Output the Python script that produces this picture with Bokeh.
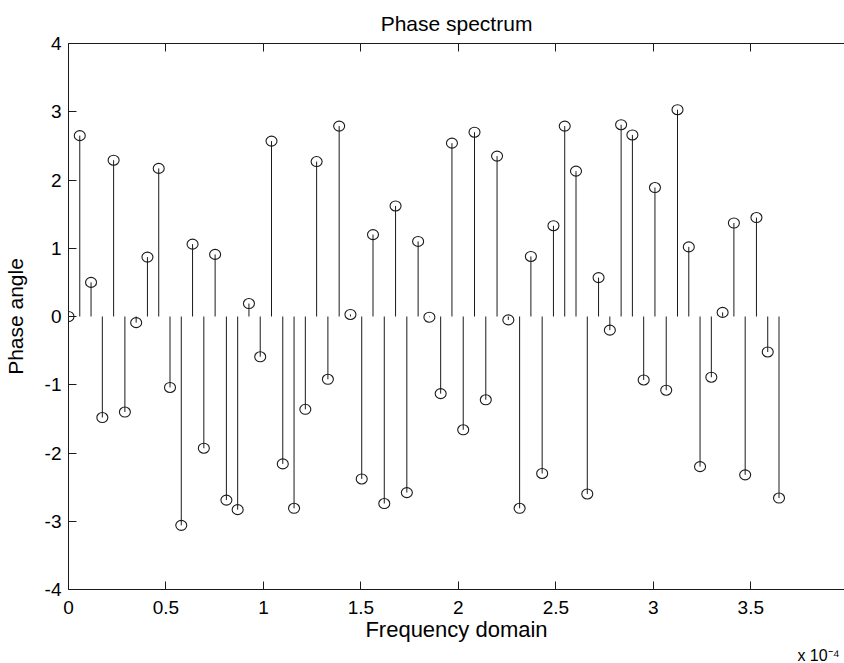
from bokeh.plotting import figure
from bokeh.models import Range1d, LinearAxis, FixedTicker, CustomJSTickFormatter, Title, ColumnDataSource
from bokeh.embed import file_html
from bokeh.resources import INLINE

# ---- data ----
df = 5.785e-6  # frequency resolution
phase = [0.00, 2.65, 0.50, -1.48, 2.29, -1.40, -0.09, 0.87, 2.17, -1.04,
         -3.06, 1.06, -1.93, 0.91, -2.69, -2.83, 0.19, -0.59, 2.57, -2.16,
         -2.81, -1.36, 2.27, -0.92, 2.79, 0.03, -2.38, 1.20, -2.74, 1.62,
         -2.58, 1.10, -0.01, -1.13, 2.54, -1.66, 2.70, -1.22, 2.35, -0.05,
         -2.81, 0.88, -2.30, 1.33, 2.79, 2.13, -2.60, 0.57, -0.20, 2.81,
         2.66, -0.93, 1.89, -1.08, 3.03, 1.02, -2.20, -0.89, 0.06, 1.37,
         -2.32, 1.45, -0.52, -2.66]
freq = [k * df for k in range(len(phase))]
zeros = [0.0] * len(phase)

x_ticks = [0, 0.5e-4, 1.0e-4, 1.5e-4, 2.0e-4, 2.5e-4, 3.0e-4, 3.5e-4, 4.0e-4]
y_ticks = [-4, -3, -2, -1, 0, 1, 2, 3, 4]

title_text = "Phase spectrum"
x_label = "Frequency domain"
y_label = "Phase angle"
x_exponent = "x 10\u207b\u2074"

XMAX = 3.9805e-4
FONT = "Liberation Sans"
INK = "#1a1a1a"

src = ColumnDataSource(dict(f=freq, ph=phase, z=zeros))

p = figure(width=844, height=663, output_backend="svg", toolbar_location=None,
           x_range=Range1d(0, XMAX), y_range=Range1d(-4, 4),
           min_border_left=67, min_border_right=0, min_border_top=43, min_border_bottom=73)
p.title.text = title_text
p.title.align = "center"
p.title.text_font = FONT
p.title.text_font_size = "21px"
p.title.text_font_style = "normal"
p.title.text_color = "black"
p.title.standoff = 17
p.outline_line_color = None
p.xgrid.visible = False
p.ygrid.visible = False
p.background_fill_color = "white"
p.border_fill_color = "white"

def style_axis(ax):
    ax.major_tick_in = 8
    ax.major_tick_out = 0
    ax.minor_tick_line_color = None
    ax.axis_line_color = INK
    ax.major_tick_line_color = INK
    ax.major_label_text_font = FONT
    ax.major_label_text_font_size = "19px"
    ax.major_label_text_color = "black"
    ax.axis_label_text_font = FONT
    ax.axis_label_text_font_size = "21px"
    ax.axis_label_text_font_style = "normal"
    ax.axis_label_text_color = "black"

xa = p.xaxis[0]
xa.ticker = FixedTicker(ticks=x_ticks)
xa.formatter = CustomJSTickFormatter(code="return String(Math.round(tick*1e5)/10);")
xa.axis_label = x_label
style_axis(xa)
xa.axis_label_text_font_size = "22px"
xa.major_label_standoff = 11
xa.axis_label_standoff = 0

ya = p.yaxis[0]
ya.ticker = FixedTicker(ticks=y_ticks)
ya.formatter = CustomJSTickFormatter(code="return tick.toString();")
ya.axis_label = y_label
style_axis(ya)
ya.major_label_standoff = 7
ya.axis_label_standoff = 15

top = LinearAxis(ticker=FixedTicker(ticks=x_ticks),
                 formatter=CustomJSTickFormatter(code="return '';"))
style_axis(top)
top.major_label_standoff = 0
top.major_label_text_font_size = "1px"
p.add_layout(top, "above")

# exponent note under the x axis
p.add_layout(Title(text=x_exponent, align="right", offset=5, standoff=0,
                   text_font=FONT, text_font_size="16px", text_font_style="normal",
                   text_color="black"), "below")

# stems
p.segment(x0="f", y0="z", x1="f", y1="ph", source=src, line_color=INK, line_width=1)
p.ellipse(x="f", y="ph", width=11, height=10, width_units="screen", height_units="screen",
          source=src, fill_color=None, line_color=INK, line_width=1.1)

open("out.html", "w").write(file_html(p, INLINE))
